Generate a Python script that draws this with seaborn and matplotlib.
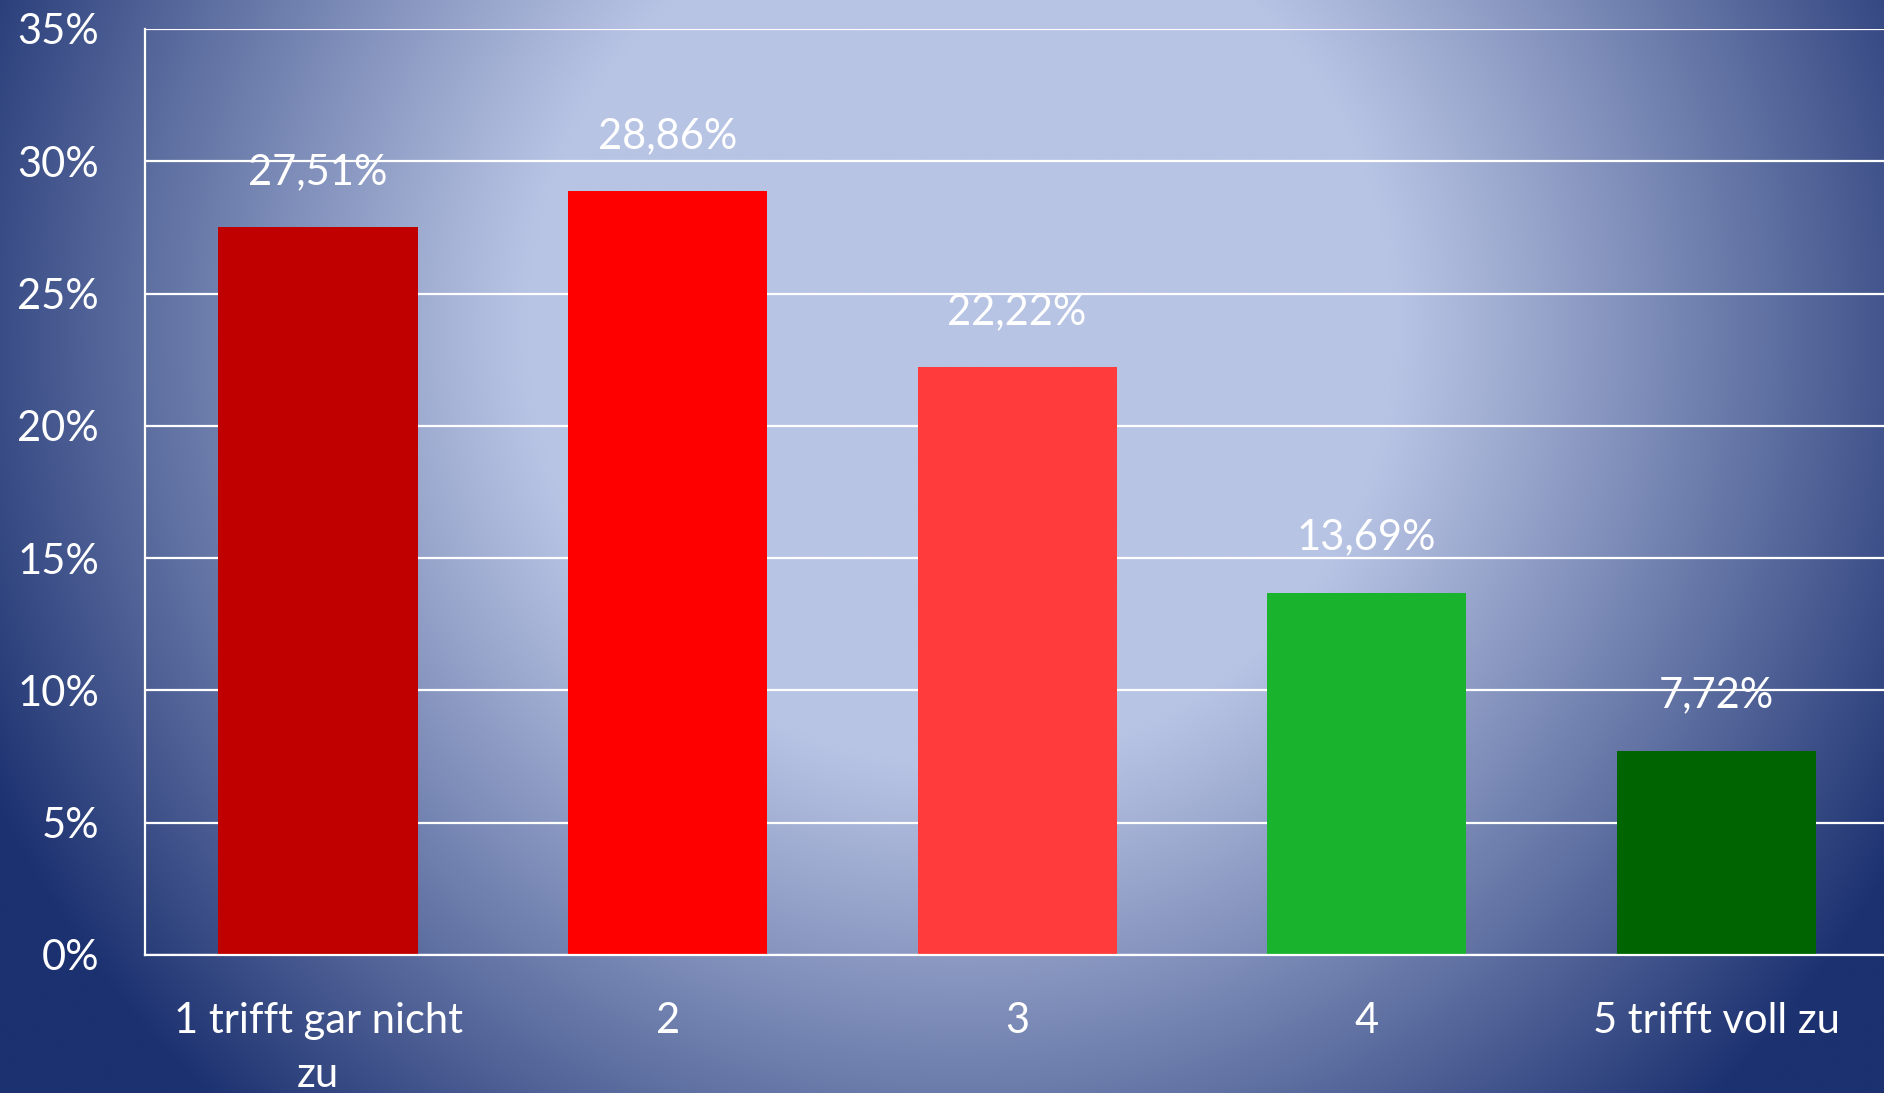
import numpy as np
import matplotlib
matplotlib.use("Agg")
import matplotlib.pyplot as plt
import seaborn as sns
from matplotlib.colors import to_rgb

# ── DATA ─────────────────────────────────────────────────────
categories = ["1 trifft gar nicht\nzu", "2", "3", "4", "5 trifft voll zu"]
values     = [27.51, 28.86, 22.22, 13.69, 7.72]
bar_colors = ["#C00000", "#FF0000", "#FF3B3B", "#1AB32E", "#006400"]
y_ticks    = [0, 5, 10, 15, 20, 25, 30, 35]

# ── STYLE ────────────────────────────────────────────────────
sns.set_style("white")
plt.rcParams["font.family"] = ["Lato", "DejaVu Sans"]

W, H, DPI = 1884, 1093, 100
fig = plt.figure(figsize=(W / DPI, H / DPI), dpi=DPI)

# background: radial blue gradient
bg = fig.add_axes([0, 0, 1, 1])
yy, xx = np.mgrid[0:1:400j, 0:1:700j]
r = np.sqrt(((xx - 0.51) / 0.55) ** 2 + ((yy - 0.30) / 0.95) ** 2)
t = np.clip((r - 0.42) / 0.62, 0, 1) ** 1.05
light = np.array(to_rgb("#B8C4E4"))
dark  = np.array(to_rgb("#1C3170"))
img = light[None, None, :] * (1 - t[..., None]) + dark[None, None, :] * t[..., None]
bg.imshow(img, extent=[0, 1, 0, 1], aspect="auto", origin="upper")
bg.set_axis_off()

# ── PLOT ─────────────────────────────────────────────────────
x0, x1 = 145, 1884
y_top, y_bot = 29, 955
ax = fig.add_axes([x0 / W, (H - y_bot) / H, (x1 - x0) / W, (y_bot - y_top) / H])
ax.patch.set_alpha(0)

sns.barplot(x=categories, y=values, hue=categories, palette=bar_colors,
            width=0.57, saturation=1, legend=False, linewidth=0,
            edgecolor="none", ax=ax)

ax.set_ylim(0, 35)
ax.set_xlim(-0.495, 4.48)
ax.set_yticks(y_ticks)
ax.set_yticklabels([f"{v}%" for v in y_ticks])
ax.yaxis.grid(True, color="white", lw=1.6)
ax.set_axisbelow(True)
for side in ["top", "right"]:
    ax.spines[side].set_visible(False)
for side in ["left", "bottom"]:
    ax.spines[side].set_color("white")
    ax.spines[side].set_linewidth(1.6)

ax.tick_params(axis="y", length=0, pad=33, labelsize=30, labelcolor="white")
ax.tick_params(axis="x", length=0, pad=34, labelsize=30, labelcolor="white")
for lbl in ax.get_xticklabels():
    lbl.set_linespacing(1.5)
ax.set_xlabel("")
ax.set_ylabel("")

for cont, v in zip(ax.containers, values):
    ax.bar_label(cont, labels=[f"{v:.2f}".replace(".", ",") + "%"],
                 padding=26, color="white", fontsize=30)

fig.savefig("out.png", dpi=DPI)
